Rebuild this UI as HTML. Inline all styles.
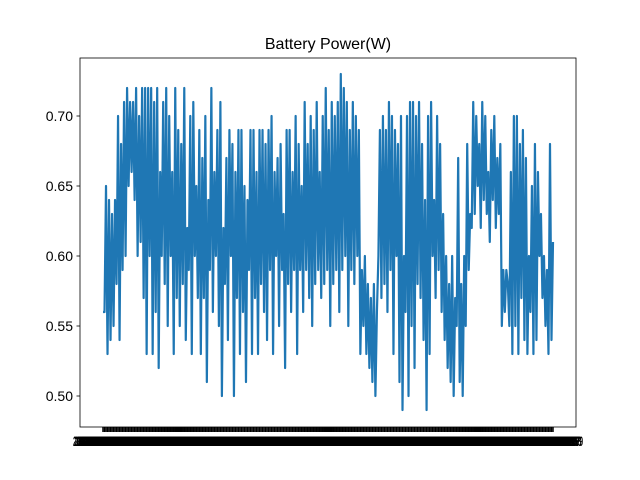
<!DOCTYPE html>
<html><head><meta charset="utf-8"><style>
html,body{margin:0;padding:0;background:#fff;}
svg{display:block;font-family:"Liberation Sans","DejaVu Sans",sans-serif;}
</style></head><body>
<svg id="chart" width="640" height="480">
<rect x="0" y="0" width="640" height="480" fill="#fff"/>
<text x="328" y="49" text-anchor="middle" font-size="16" fill="#000">Battery Power(W)</text>
<g id="yaxis"></g>
<g id="xaxis"></g>
<path id="line" fill="none" stroke="#1f77b4" stroke-width="2.2" stroke-linejoin="round"/>
<rect x="80" y="58" width="496" height="369" fill="none" stroke="#000" stroke-width="0.8"/>
</svg>
<script>
const values = [
56,56,65,53,64,54,63,55,64,58,70,54,68,59,71,60,72,65,71,66,71,64,72,60,70,61,72,57,72,53,72,60,72,53,71,56,72,52,66,60,71,58,72,55,70,60,66,53,72,57,69,55,68,58,72,54,62,59,70,53,71,60,65,57,69,53,67,57,70,51,64,59,72,56,66,60,69,55,71,50,62,58,67,54,69,60,68,50,66,57,69,53,69,56,65,51,64,59,69,53,
69,57,66,53,69,58,69,56,68,54,69,59,70,53,66,60,67,55,68,59,63,52,69,58,69,56,66,59,70,53,68,59,65,56,71,59,68,57,70,55,69,58,71,59,66,57,70,58,72,59,69,55,71,58,70,59,71,56,73,59,72,60,71,55,69,59,71,58,70,60,69,53,59,55,60,53,58,52,57,51,58,50,56,60,69,57,70,58,69,56,71,59,70,53,69,60,68,51,70,49,
60,56,70,50,71,55,71,52,70,58,71,57,68,54,64,49,70,53,71,60,64,57,70,59,68,56,63,54,60,52,58,51,60,50,57,55,67,51,58,50,60,55,68,59,63,62,71,63,70,65,68,62,71,64,70,63,66,61,69,64,70,62,67,63,68,55,59,56,59,58,55,66,53,70,55,70,53,68,57,69,54,67,53,60,56,65,53,68,54,66,60,63,57,60,55,59,53,68,54,61
].map(v => v / 100);
const yTicks = [0.50, 0.55, 0.60, 0.65, 0.70];
const yTickLabels = ["0.50", "0.55", "0.60", "0.65", "0.70"];
const xLabels = values.map((v, i) => "2023-01-01 00:" + String(i).padStart(3, "0"));

const NS = "http://www.w3.org/2000/svg";
const x0 = 103, x1 = 553;
function xScale(i) { return x0 + (x1 - x0) * i / (values.length - 1); }
function yScale(v) { return 116 + (0.70 - v) / 0.05 * 70; }

const yaxis = document.getElementById("yaxis");
yTicks.forEach((t, k) => {
  const y = yScale(t);
  const ln = document.createElementNS(NS, "line");
  ln.setAttribute("x1", 76.5); ln.setAttribute("x2", 80); ln.setAttribute("y1", y); ln.setAttribute("y2", y);
  ln.setAttribute("stroke", "#000"); ln.setAttribute("stroke-width", "0.8");
  
  
  yaxis.appendChild(ln);
  const tx = document.createElementNS(NS, "text");
  tx.setAttribute("x", 73); tx.setAttribute("y", y + 5);
  tx.setAttribute("text-anchor", "end"); tx.setAttribute("font-size", "14");
  tx.textContent = yTickLabels[k];
  
  
  yaxis.appendChild(tx);
});

const xaxis = document.getElementById("xaxis");
xLabels.forEach((lab, i) => {
  const x = xScale(i);
  const ln = document.createElementNS(NS, "line");
  ln.setAttribute("x1", x); ln.setAttribute("x2", x); ln.setAttribute("y1", 427); ln.setAttribute("y2", 432);
  ln.setAttribute("stroke", "#000"); ln.setAttribute("stroke-width", "1.5");
  
  
  xaxis.appendChild(ln);
  const tx = document.createElementNS(NS, "text");
  tx.setAttribute("x", x); tx.setAttribute("y", 446);
  tx.setAttribute("text-anchor", "middle"); tx.setAttribute("font-size", "14");
  tx.setAttribute("font-weight", "bold");
  tx.setAttribute("textLength", "60"); tx.setAttribute("lengthAdjust", "spacingAndGlyphs");
  tx.textContent = lab;
  
  
  xaxis.appendChild(tx);
});

let d = "";
values.forEach((v, i) => { d += (i ? "L" : "M") + xScale(i).toFixed(2) + "," + yScale(v).toFixed(2); });
document.getElementById("line").setAttribute("d", d);
</script>
</body></html>
